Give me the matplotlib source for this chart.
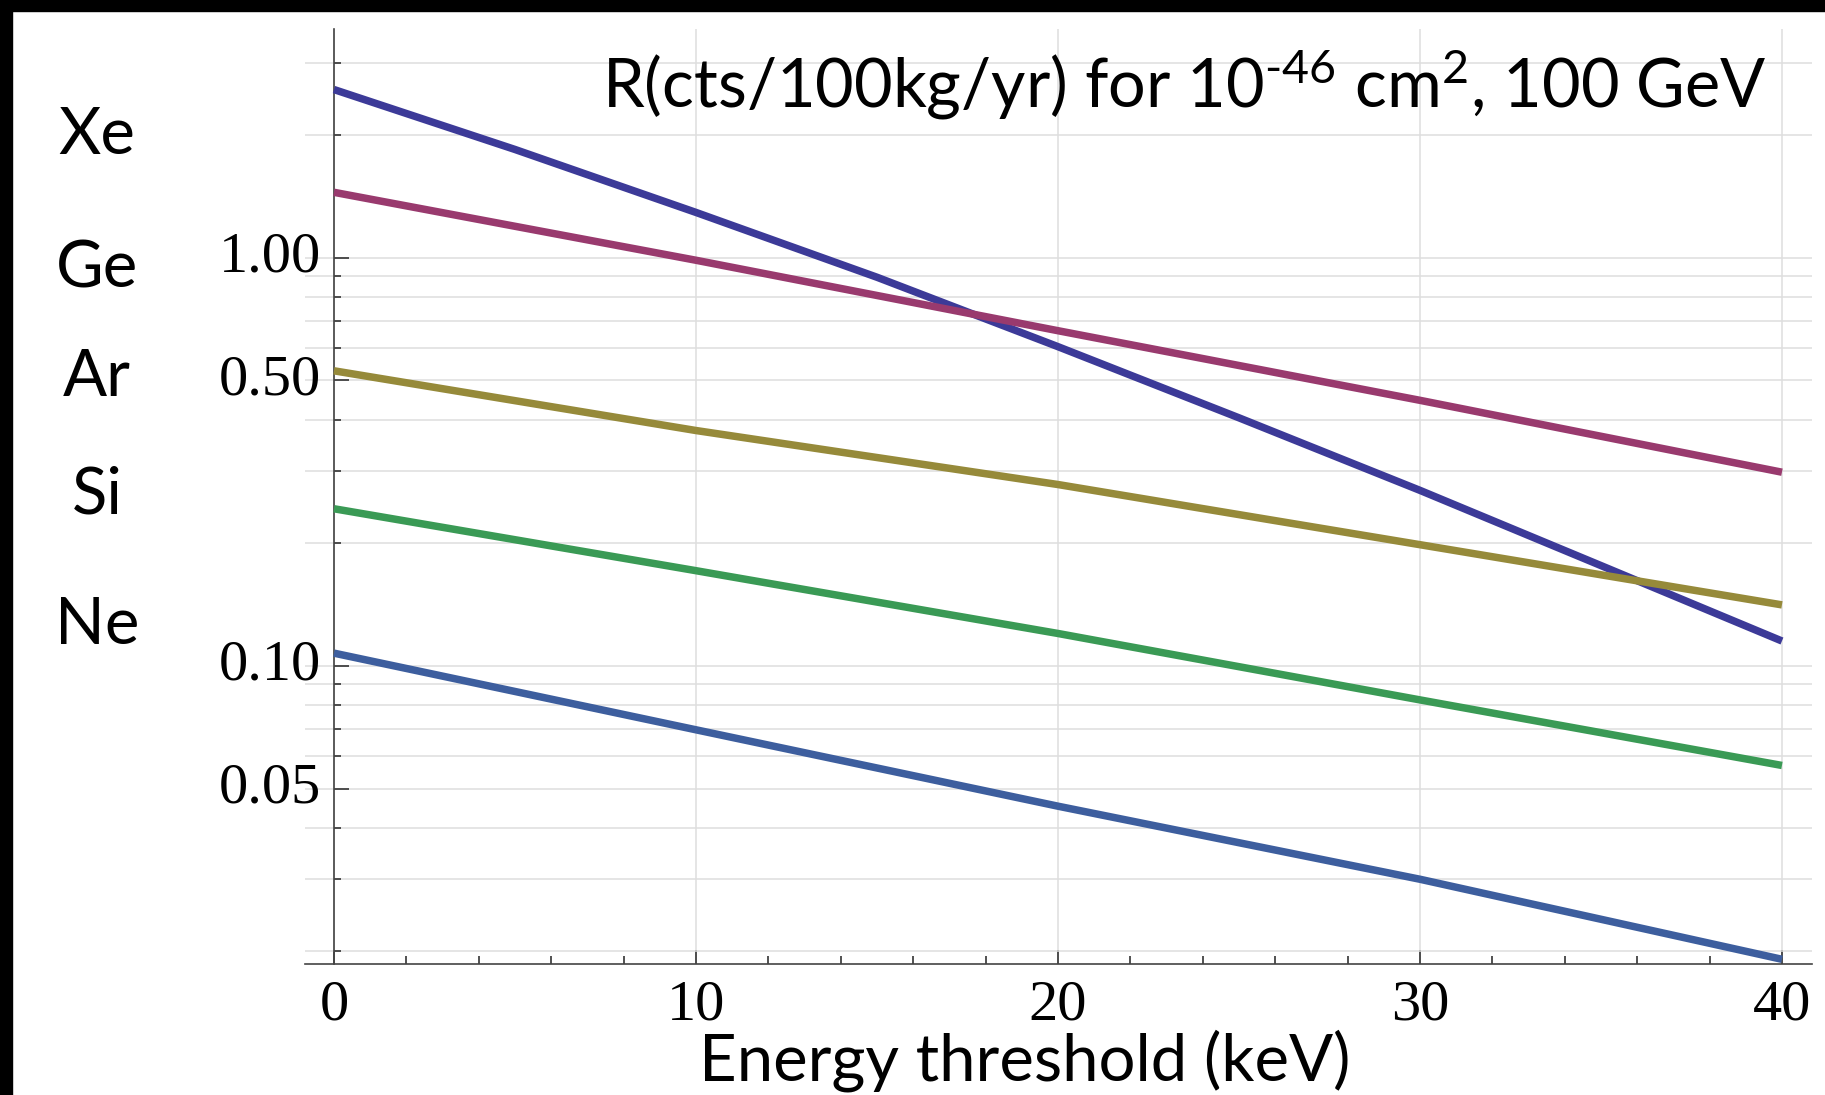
import numpy as np
import matplotlib
matplotlib.use("Agg")
import matplotlib.pyplot as plt
from matplotlib.ticker import FixedLocator, FixedFormatter, NullFormatter
from matplotlib.patches import Rectangle

# (rate vs threshold, log scale)
energy_kev = [0, 10, 20, 30, 40]
rate_ge = [1.445, 0.985, 0.662, 0.447, 0.298]
rate_ar = [0.528, 0.377, 0.278, 0.198, 0.141]
rate_si = [0.2425, 0.171, 0.120, 0.0825, 0.057]
rate_ne = [0.1074, 0.0697, 0.0453, 0.0300, 0.0191]
# Xe bends a little, so read it more often
energy_xe = [0, 5, 10, 15, 20, 25, 30, 35, 40]
rate_xe = [2.58, 1.84, 1.29, 0.895, 0.605, 0.405, 0.269, 0.176, 0.115]

targets = ["Xe", "Ge", "Ar", "Si", "Ne"]
target_y = [136, 269, 378, 495, 626]  # label centres, px from top

ytick_vals = [0.05, 0.10, 0.50, 1.00]
ytick_labels = ["0.05", "0.10", "0.50", "1.00"]
yminor_vals = [0.02, 0.03, 0.04, 0.06, 0.07, 0.08, 0.09,
               0.2, 0.3, 0.4, 0.6, 0.7, 0.8, 0.9, 2, 3]
xtick_vals = [0, 10, 20, 30, 40]

W, H = 1825, 1095
plt.rcParams['mathtext.fontset'] = 'custom'
plt.rcParams['mathtext.rm'] = 'Lato'
plt.rcParams['mathtext.it'] = 'Lato:italic'

fig = plt.figure(figsize=(W / 100, H / 100), dpi=100)
fig.patch.set_facecolor('white')
ax = fig.add_axes([305 / W, 1 - 964 / H, (1812 - 305) / W, (964 - 29) / H])

series = [(energy_xe, rate_xe, '#3c3a98'),
          (energy_kev, rate_ge, '#993a6e'),
          (energy_kev, rate_ar, '#968a3a'),
          (energy_kev, rate_si, '#3a9a55'),
          (energy_kev, rate_ne, '#3d5e9e')]
for xs, vals, c in series:
    ax.plot(xs, vals, color=c, lw=5.4, solid_capstyle='butt',
            solid_joinstyle='round', zorder=3)

ax.set_yscale('log')
ax.set_xlim(-0.8, 40.83)
ax.set_ylim(0.0186, 3.63)

ax.spines['top'].set_visible(False)
ax.spines['right'].set_visible(False)
ax.spines['left'].set_position(('data', 0))
for s in ['left', 'bottom']:
    ax.spines[s].set_color('#444444')
    ax.spines[s].set_linewidth(1.2)

ax.yaxis.set_major_locator(FixedLocator(ytick_vals))
ax.yaxis.set_major_formatter(FixedFormatter(ytick_labels))
ax.yaxis.set_minor_locator(FixedLocator(yminor_vals))
ax.yaxis.set_minor_formatter(NullFormatter())
ax.xaxis.set_major_locator(FixedLocator(xtick_vals))
ax.xaxis.set_minor_locator(FixedLocator(np.arange(0, 41, 2)))

ax.tick_params(which='both', direction='in', color='#333333', width=1.2)
ax.tick_params(axis='y', which='major', length=11, pad=9)
ax.tick_params(axis='y', which='minor', length=5)
ax.tick_params(axis='x', which='major', length=10, pad=11)
ax.tick_params(axis='x', which='minor', length=6)
for lab in ax.get_xticklabels() + ax.get_yticklabels():
    lab.set_family('Liberation Serif')
    lab.set_fontsize(42)
for lab in ax.get_yticklabels():
    lab.set_va('center')

ax.grid(True, which='both', axis='y', color='#dedede', lw=1.1, zorder=0)
ax.grid(True, which='major', axis='x', color='#dedede', lw=1.1, zorder=0)

fig.text(1767 / W, 1 - 107 / H,
         r"R(cts/100kg/yr) for 10$^{\text{-46}}$ cm$^{\mathrm{2}}$, 100 GeV",
         family='Lato', fontsize=48, ha='right', va='baseline')
fig.text(1025 / W, 1 - 1080 / H, "Energy threshold (keV)",
         family='Lato', fontsize=47, ha='center', va='baseline')
for name, yp in zip(targets, target_y):
    fig.text(97 / W, 1 - yp / H, name, family='Lato', fontsize=47,
             ha='center', va='center')

# black frame on top and left edge
fig.patches.append(Rectangle((0, 1 - 11 / H), 1, 11 / H, transform=fig.transFigure,
                             color='black', zorder=10))
fig.patches.append(Rectangle((0, 0), 12 / W, 1, transform=fig.transFigure,
                             color='black', zorder=10))

fig.savefig('out.png', dpi=100)
